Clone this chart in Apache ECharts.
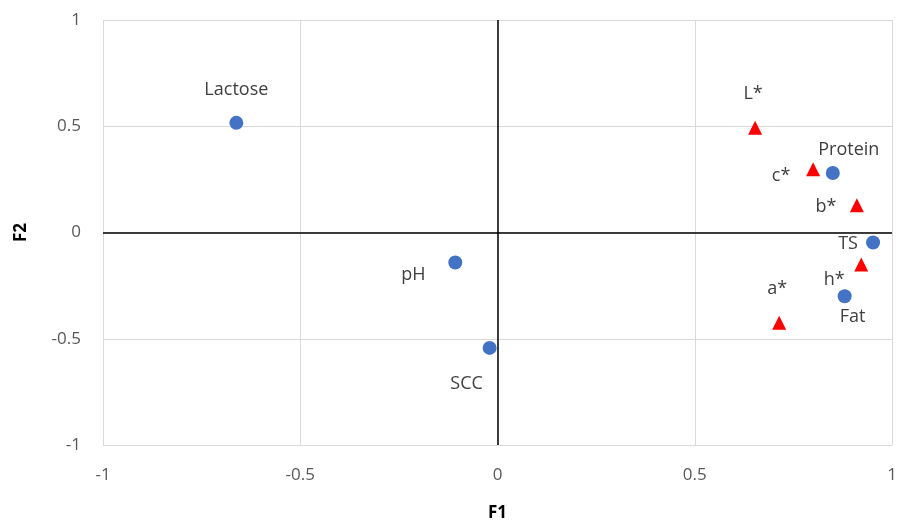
<!DOCTYPE html>
<html>
<head>
<meta charset="utf-8">
<style>
	html,body{margin:0;padding:0;background:#fff;}
	#chart{width:900px;height:529px;}
</style>
<script src="https://cdn.jsdelivr.net/npm/echarts@6/dist/echarts.min.js"></script>
</head>
<body>
<div id="chart"></div>
<script>
// 成分（圆点）
var compNames=['Lactose','pH','SCC','Protein','TS','Fat'];
var compF1=[-0.662,-0.107,-0.020,0.850,0.952,0.880];
var compF2=[0.516,-0.141,-0.543,0.280,-0.047,-0.300];
// 颜色参数（三角）
var colorNames=['L*','c*','b*','h*','a*'];
var colorF1=[0.653,0.800,0.911,0.922,0.714];
var colorF2=[0.493,0.298,0.128,-0.151,-0.425];
var axisTicks=[-1,-0.5,0,0.5,1];

// 标签偏移
var labelOffset={
	'Lactose':[0,-33],'pH':[-42,12],'SCC':[-23,36],'Protein':[16,-23],
	'TS':[-25,1],'Fat':[8,21],'L*':[-2,-34],'c*':[-32,7],'b*':[-31,2],
	'h*':[-27,15],'a*':[-2,-34]
};

function buildData(names,xs,ys){
	var arr=[];
	for(var i=0;i<names.length;i++){
		arr.push({
			name:names[i],
			value:[xs[i],ys[i]],
			label:{offset:labelOffset[names[i]]}
		});
	}
	return arr;
}

var myChart=echarts.init(document.getElementById('chart'));
var labelStyle={
	show:true,
	position:'inside',
	formatter:'{b}',
	color:'#404040',
	opacity:1,
	fontSize:18,
	fontFamily:'Open Sans',
	fontWeight:'normal'
};
var option={
	animation:false,
	grid:{left:103,right:8,top:20,bottom:84},
	xAxis:{
		type:'value',
		min:-1,max:1,interval:0.5,
		name:'F1',nameLocation:'middle',nameGap:60,
		nameTextStyle:{fontSize:17,fontWeight:'bold',color:'#000',fontFamily:'Open Sans'},
		axisLine:{show:false},
		axisTick:{show:false},
		axisLabel:{
			color:'#595959',fontSize:17,fontFamily:'Open Sans',margin:22,
			formatter:function(v){return axisTicks.indexOf(v)>=0?String(v):'';}
		},
		splitLine:{show:true,lineStyle:{color:'#d9d9d9',width:1}}
	},
	yAxis:{
		type:'value',
		min:-1,max:1,interval:0.5,
		name:'F2',nameLocation:'middle',nameGap:73,nameRotate:90,
		nameTextStyle:{fontSize:17,fontWeight:'bold',color:'#000',fontFamily:'Open Sans'},
		axisLine:{show:false},
		axisTick:{show:false},
		axisLabel:{
			color:'#595959',fontSize:17,fontFamily:'Open Sans',margin:22,
			formatter:function(v){return axisTicks.indexOf(v)>=0?String(v):'';}
		},
		splitLine:{show:true,lineStyle:{color:'#d9d9d9',width:1}}
	},
	series:[{
		type:'scatter',
		name:'comp',
		symbol:'circle',
		symbolSize:14,
		itemStyle:{color:'#4472C4',opacity:1},
		label:labelStyle,
		data:buildData(compNames,compF1,compF2),
		markLine:{
			silent:true,
			symbol:'none',
			label:{show:false},
			lineStyle:{color:'#000',width:1.5,type:'solid',opacity:1},
			data:[{xAxis:0},{yAxis:0}]
		},
		z:3
	},{
		type:'scatter',
		name:'color',
		symbol:'triangle',
		symbolSize:14,
		itemStyle:{color:'#FF0000',opacity:1},
		label:labelStyle,
		data:buildData(colorNames,colorF1,colorF2),
		z:3
	}]
};
myChart.setOption(option);
</script>
</body>
</html>
